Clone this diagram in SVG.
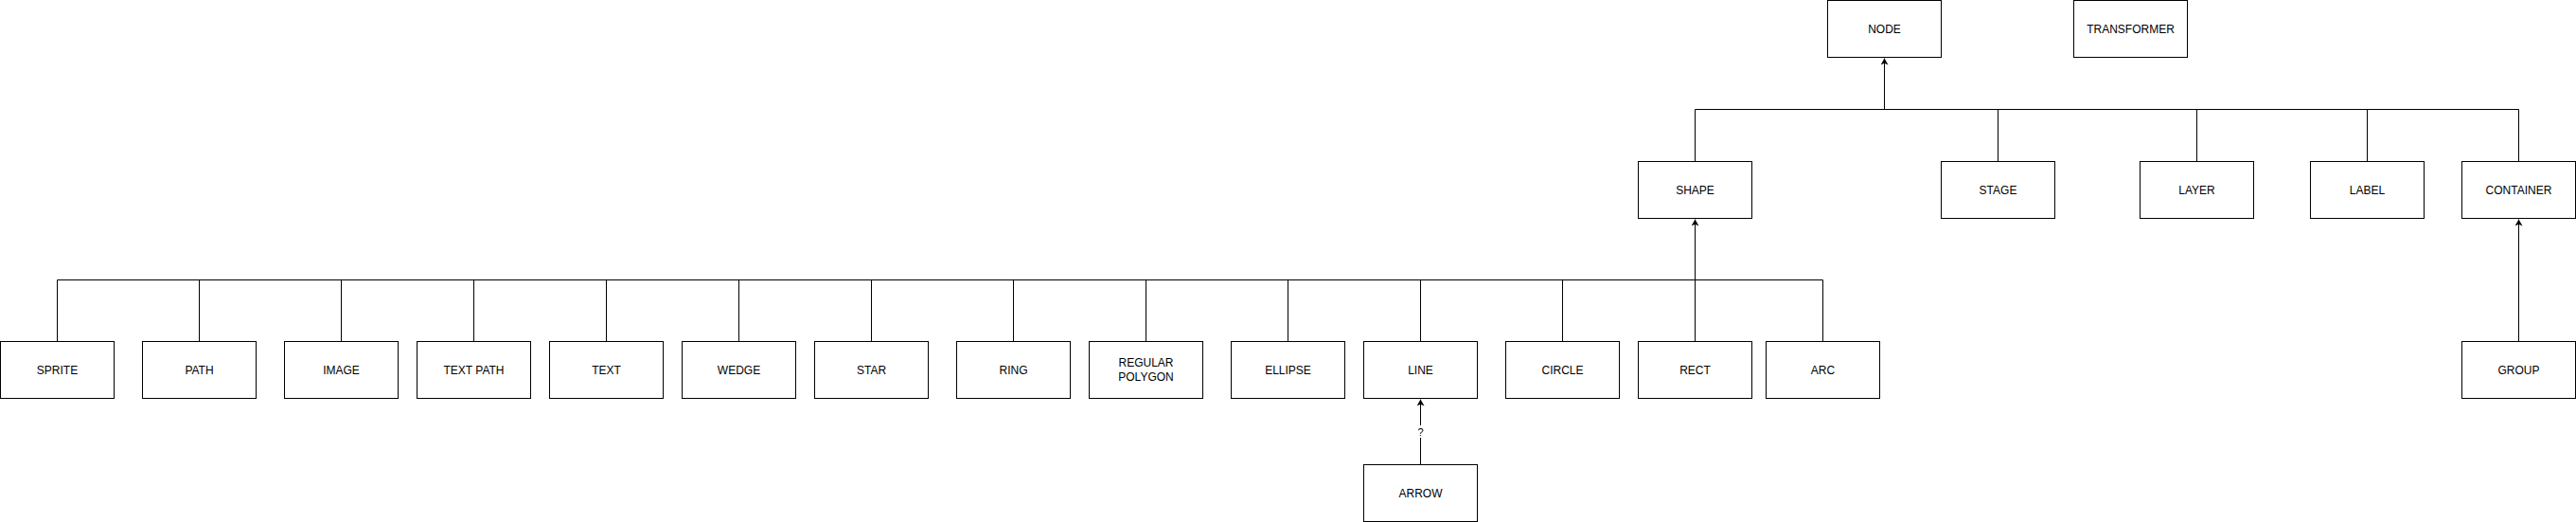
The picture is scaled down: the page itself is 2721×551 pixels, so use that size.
<svg xmlns="http://www.w3.org/2000/svg" width="2721" height="551" viewBox="0 0 2721 551">
<defs>
<style>
.n rect{fill:#fff;stroke:#000;stroke-width:1}
.n text,.lbl{font-family:"Liberation Sans",Arial,Helvetica,sans-serif;font-size:12px;fill:#000;text-anchor:middle}
.lbl{font-size:11px}
.e{fill:none;stroke:#000;stroke-width:1}
.a{marker-end:url(#arr)}
</style>
<marker id="arr" viewBox="0 0 7 8" refX="7" refY="4" markerWidth="7" markerHeight="8" markerUnits="userSpaceOnUse" orient="auto">
<path d="M7,4 L0,0 L1.8,4 L0,8 Z" fill="#000" stroke="none"/>
</marker>
</defs>
<rect width="2721" height="551" fill="#fff"/>
<g id="connectors">
<path class="e" d="M1790.5 170.5V115.5H1990.5"/>
<path class="e" d="M2110.5 170.5V115.5H1990.5"/>
<path class="e" d="M2320.5 170.5V115.5H1990.5"/>
<path class="e" d="M2500.5 170.5V115.5H1990.5"/>
<path class="e" d="M2660.5 170.5V115.5H1990.5"/>
<path class="e a" d="M1990.5 115.5V61.5"/>
<path class="e" d="M60.5 360.5V295.5H1790.5"/>
<path class="e" d="M210.5 360.5V295.5"/>
<path class="e" d="M360.5 360.5V295.5"/>
<path class="e" d="M500.5 360.5V295.5"/>
<path class="e" d="M640.5 360.5V295.5"/>
<path class="e" d="M780.5 360.5V295.5"/>
<path class="e" d="M920.5 360.5V295.5"/>
<path class="e" d="M1070.5 360.5V295.5"/>
<path class="e" d="M1210.5 360.5V295.5"/>
<path class="e" d="M1360.5 360.5V295.5"/>
<path class="e" d="M1500.5 360.5V295.5"/>
<path class="e" d="M1650.5 360.5V295.5"/>
<path class="e" d="M1790.5 360.5V295.5"/>
<path class="e" d="M1925.5 360.5V295.5H1790.5"/>
<path class="e a" d="M1790.5 295.5V231.5"/>
<path class="e a" d="M2660.5 360.5V231.5"/>
<path class="e a" d="M1500.5 490.5V421.5"/>
<rect x="1496" y="449" width="9" height="13" fill="#fff"/>
<text class="lbl" x="1500.5" y="459.5">?</text>
</g>
<g id="node-node" class="n"><rect x="1930.5" y="0.5" width="120" height="60"/><text x="1990.5" y="34.5">NODE</text></g>
<g id="node-transformer" class="n"><rect x="2190.5" y="0.5" width="120" height="60"/><text x="2250.5" y="34.5">TRANSFORMER</text></g>
<g id="node-shape" class="n"><rect x="1730.5" y="170.5" width="120" height="60"/><text x="1790.5" y="204.5">SHAPE</text></g>
<g id="node-stage" class="n"><rect x="2050.5" y="170.5" width="120" height="60"/><text x="2110.5" y="204.5">STAGE</text></g>
<g id="node-layer" class="n"><rect x="2260.5" y="170.5" width="120" height="60"/><text x="2320.5" y="204.5">LAYER</text></g>
<g id="node-label" class="n"><rect x="2440.5" y="170.5" width="120" height="60"/><text x="2500.5" y="204.5">LABEL</text></g>
<g id="node-container" class="n"><rect x="2600.5" y="170.5" width="120" height="60"/><text x="2660.5" y="204.5">CONTAINER</text></g>
<g id="node-sprite" class="n"><rect x="0.5" y="360.5" width="120" height="60"/><text x="60.5" y="394.5">SPRITE</text></g>
<g id="node-path" class="n"><rect x="150.5" y="360.5" width="120" height="60"/><text x="210.5" y="394.5">PATH</text></g>
<g id="node-image" class="n"><rect x="300.5" y="360.5" width="120" height="60"/><text x="360.5" y="394.5">IMAGE</text></g>
<g id="node-textpath" class="n"><rect x="440.5" y="360.5" width="120" height="60"/><text x="500.5" y="394.5">TEXT PATH</text></g>
<g id="node-text" class="n"><rect x="580.5" y="360.5" width="120" height="60"/><text x="640.5" y="394.5">TEXT</text></g>
<g id="node-wedge" class="n"><rect x="720.5" y="360.5" width="120" height="60"/><text x="780.5" y="394.5">WEDGE</text></g>
<g id="node-star" class="n"><rect x="860.5" y="360.5" width="120" height="60"/><text x="920.5" y="394.5">STAR</text></g>
<g id="node-ring" class="n"><rect x="1010.5" y="360.5" width="120" height="60"/><text x="1070.5" y="394.5">RING</text></g>
<g id="node-regularpolygon" class="n"><rect x="1150.5" y="360.5" width="120" height="60"/><text x="1210.5" y="387">REGULAR</text><text x="1210.5" y="401.5">POLYGON</text></g>
<g id="node-ellipse" class="n"><rect x="1300.5" y="360.5" width="120" height="60"/><text x="1360.5" y="394.5">ELLIPSE</text></g>
<g id="node-line" class="n"><rect x="1440.5" y="360.5" width="120" height="60"/><text x="1500.5" y="394.5">LINE</text></g>
<g id="node-circle" class="n"><rect x="1590.5" y="360.5" width="120" height="60"/><text x="1650.5" y="394.5">CIRCLE</text></g>
<g id="node-rect" class="n"><rect x="1730.5" y="360.5" width="120" height="60"/><text x="1790.5" y="394.5">RECT</text></g>
<g id="node-arc" class="n"><rect x="1865.5" y="360.5" width="120" height="60"/><text x="1925.5" y="394.5">ARC</text></g>
<g id="node-group" class="n"><rect x="2600.5" y="360.5" width="120" height="60"/><text x="2660.5" y="394.5">GROUP</text></g>
<g id="node-arrow" class="n"><rect x="1440.5" y="490.5" width="120" height="60"/><text x="1500.5" y="524.5">ARROW</text></g>
</svg>
